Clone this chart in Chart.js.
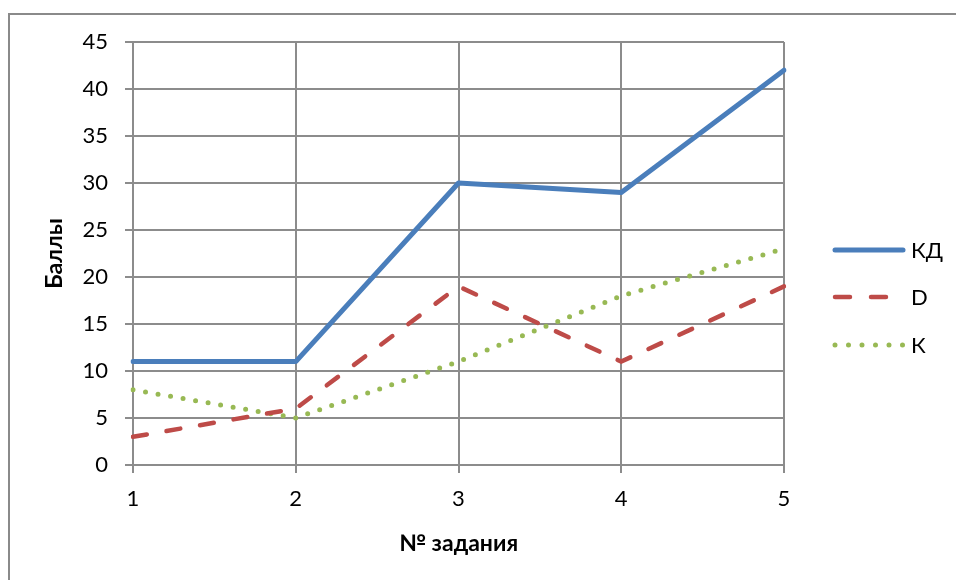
<!DOCTYPE html>
<html>
<head>
<meta charset="utf-8">
<script src="https://cdn.jsdelivr.net/npm/chart.js@4/dist/chart.umd.min.js"></script>
<style>
html,body{margin:0;padding:0;background:#fff;overflow:hidden;}
canvas{display:block;}
</style>
</head>
<body>
<canvas id="c" width="956" height="580"></canvas>
<script>
const categories = ['1', '2', '3', '4', '5'];
const seriesKD = [11, 11, 30, 29, 42];
const seriesD = [3, 6, 19, 11, 19];
const seriesK = [8, 5, 11, 18, 23];
const seriesNames = ['КД', 'D', 'К'];
const yTitle = 'Баллы';
const xTitle = '№ задания';

const FONT = 'Lato, "Open Sans", sans-serif';
const GRID = '#8c8c8c';

const framePlugin = {
  id: 'frame',
  afterDraw(chart) {
    const ctx = chart.ctx;
    ctx.save();
    ctx.strokeStyle = '#8a8a8a';
    ctx.lineWidth = 2;
    ctx.strokeRect(9, 14, 1000, 1000);
    ctx.restore();
  }
};

const legendPlugin = {
  id: 'customLegend',
  afterDraw(chart) {
    const ctx = chart.ctx;
    const x0 = 835, x1 = 903, tx = 911;
    const ys = [250, 297, 345];
    chart.data.datasets.forEach((ds, i) => {
      const y = ys[i];
      ctx.save();
      ctx.strokeStyle = ds.borderColor;
      ctx.lineWidth = ds.borderWidth;
      ctx.lineCap = ds.borderCapStyle || 'butt';
      ctx.setLineDash(ds.legendDash || []);
      ctx.beginPath();
      ctx.moveTo(x0, y);
      ctx.lineTo(x1, y);
      ctx.stroke();
      ctx.restore();
      ctx.save();
      ctx.fillStyle = '#000';
      ctx.font = '22px ' + FONT;
      ctx.textBaseline = 'middle';
      ctx.textAlign = 'left';
      ctx.fillText(ds.label, tx, y + 1);
      ctx.restore();
    });
  }
};

new Chart(document.getElementById('c'), {
  type: 'line',
  data: {
    labels: categories,
    datasets: [
      {
        label: seriesNames[0], data: seriesKD,
        borderColor: '#4a7ebb', borderWidth: 5, borderCapStyle: 'round',
        borderJoinStyle: 'round', pointRadius: 0, tension: 0, fill: false,
        legendDash: []
      },
      {
        label: seriesNames[1], data: seriesD,
        borderColor: '#be4b48', borderWidth: 4.5, borderCapStyle: 'round',
        borderDash: [14, 20], pointRadius: 0, tension: 0, fill: false,
        legendDash: [15, 21]
      },
      {
        label: seriesNames[2], data: seriesK,
        borderColor: '#98b954', borderWidth: 5, borderCapStyle: 'round',
        borderDash: [0, 12.7], pointRadius: 0, tension: 0, fill: false,
        legendDash: [0, 13.5]
      }
    ]
  },
  options: {
    responsive: false,
    animation: false,
    events: [],
    layout: { padding: { top: 42, right: 172, bottom: 0, left: 0 } },
    plugins: { legend: { display: false }, tooltip: { enabled: false } },
    scales: {
      x: {
        type: 'category',
        offset: false,
        grid: { color: GRID, lineWidth: 2, tickLength: 8, tickColor: GRID, offset: false },
        border: { color: GRID, width: 2 },
        ticks: { color: '#000', font: { family: FONT, size: 22 }, padding: 13, maxRotation: 0 },
        title: { display: true, text: xTitle, color: '#000',
          font: { family: FONT, size: 23, weight: 'bold' }, padding: { top: 0, bottom: 23 } },
        afterFit(scale) { scale.height = 115; }
      },
      y: {
        min: 0, max: 45,
        grid: { color: GRID, lineWidth: 2, tickLength: 8, tickColor: GRID },
        border: { color: GRID, width: 2 },
        ticks: { stepSize: 5, color: '#000', font: { family: FONT, size: 22 }, padding: 17 },
        title: { display: true, text: yTitle, color: '#000',
          font: { family: FONT, size: 23, weight: 'bold' }, padding: { top: 41, bottom: 0 } },
        afterFit(scale) { scale.width = 133; }
      }
    }
  },
  plugins: [framePlugin, legendPlugin]
});
</script>
</body>
</html>
